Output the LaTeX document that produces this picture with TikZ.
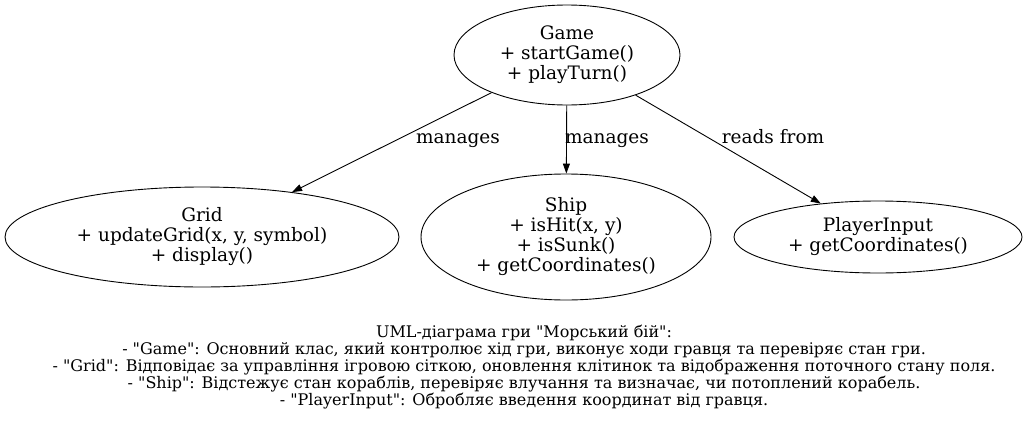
\documentclass[tikz,border=0pt]{standalone}
\usepackage{fontspec}
\setmainfont{DejaVu Serif}[Ligatures=TeXOff]
\usepackage{tikz}
\usetikzlibrary{arrows.meta,shapes.geometric}

\begin{document}
\begin{tikzpicture}[
  x=1pt,y=-1pt,
  font=\fontsize{18.5}{20}\selectfont,
  >={Triangle[length=10pt,width=7pt]},
  cls/.style={draw,line width=0.9pt,ellipse,inner sep=0pt,align=center},
  lbl/.style={inner sep=0pt,anchor=base},
  arrow/.style={->,line width=0.9pt}
]
  \useasboundingbox (0,0) rectangle (1027,423);

  \node[cls,minimum width=226,minimum height=100] (game) at (567,55)
    {Game\\+ startGame()\\+ playTurn()};
  \node[cls,minimum width=394,minimum height=100] (grid) at (202,237)
    {Grid\\+ updateGrid(x, y, symbol)\\+ display()};
  \node[cls,minimum width=290,minimum height=126] (ship) at (566,237)
    {Ship\\+ isHit(x, y)\\+ isSunk()\\+ getCoordinates()};
  \node[cls,minimum width=288,minimum height=72] (input) at (878,237)
    {PlayerInput\\+ getCoordinates()};

  \draw[arrow] (game) -- (grid);
  \draw[arrow] (game) -- (ship);
  \draw[arrow] (game) -- (input);
  \node[lbl] (lblgrid) at (458,143) {manages};
  \node[lbl] (lblship) at (607,143) {manages};
  \node[lbl] (lblinput) at (773,143) {reads from};

  \node[align=center,font=\fontsize{16}{17}\selectfont] (legend) at (524,367)
    {UML-діаграма гри "Морський бій":\\
     - "Game": Основний клас, який контролює хід гри, виконує ходи гравця та перевіряє стан гри.\\
     - "Grid": Відповідає за управління ігровою сіткою, оновлення клітинок та відображення поточного стану поля.\\
     - "Ship": Відстежує стан кораблів, перевіряє влучання та визначає, чи потоплений корабель.\\
     - "PlayerInput": Обробляє введення координат від гравця.};
\end{tikzpicture}
\end{document}
